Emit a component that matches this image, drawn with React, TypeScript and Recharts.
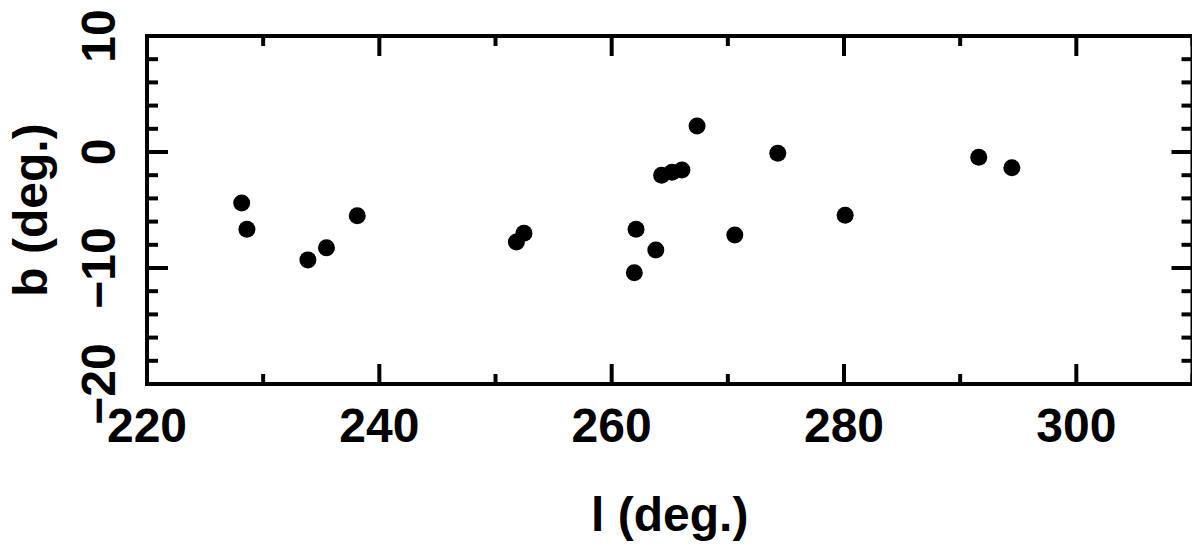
import { ScatterChart, Scatter, XAxis, YAxis, ReferenceArea } from 'recharts';

// galactic longitude / latitude of the sources (deg.)
const lonDeg = [228.15, 228.6, 233.85, 235.45, 238.1, 251.8, 252.45, 261.95, 262.1, 263.8, 264.3, 265.2, 266.05, 267.35, 270.6, 274.3, 280.1, 291.6, 294.45];
const latDeg = [-4.4, -6.65, -9.3, -8.25, -5.5, -7.75, -7.0, -10.4, -6.65, -8.45, -2.0, -1.75, -1.55, 2.25, -7.15, -0.1, -5.45, -0.45, -1.35];

const xTicks = [220, 230, 240, 250, 260, 270, 280, 290, 300, 310];
const yTicks = [-20, -18, -16, -14, -12, -10, -8, -6, -4, -2, 0, 2, 4, 6, 8, 10];

const points = lonDeg.map((l, i) => ({ l, b: latDeg[i] }));

const W = 1192;
const H = 540;
const LEFT = 139;
const RIGHT = 1184.5;
const TOP = 28;
const BOTTOM = 376;
const FONT = '"Liberation Sans", Arial, Helvetica, sans-serif';

const XTick = (props: any) => {
  const { x, payload } = props;
  const major = payload.value % 20 === 0;
  const len = major ? 20 : 10;
  return (
    <g>
      <line x1={x} x2={x} y1={BOTTOM} y2={BOTTOM - len} stroke="#000" strokeWidth={4} />
      <line x1={x} x2={x} y1={TOP} y2={TOP + len} stroke="#000" strokeWidth={4} />
      {major && (
        <text x={x} y={434} textAnchor="middle" fontFamily={FONT} fontWeight="bold" fontSize={48} fill="#000">
          {payload.value}
        </text>
      )}
    </g>
  );
};

const YTick = (props: any) => {
  const { y, payload } = props;
  const major = payload.value % 10 === 0;
  const len = major ? 21 : 11;
  const label = payload.value < 0 ? '\u2212' + Math.abs(payload.value) : String(payload.value);
  return (
    <g>
      <line x1={LEFT} x2={LEFT + len} y1={y} y2={y} stroke="#000" strokeWidth={4} />
      <line x1={RIGHT} x2={RIGHT - len} y1={y} y2={y} stroke="#000" strokeWidth={4} />
      {major && (
        <text
          x={107}
          y={y}
          transform={`rotate(-90, 107, ${y})`}
          textAnchor="middle"
          fontFamily={FONT}
          fontWeight="bold"
          fontSize={48}
          fill="#000"
        >
          {label}
        </text>
      )}
    </g>
  );
};

const Dot = (props: any) => <circle cx={props.cx} cy={props.cy} r={8.5} fill="#000" />;

export default function App() {
  return (
    <div style={{ width: W, height: H, background: '#fff' }}>
      <ScatterChart width={W} height={H} margin={{ top: TOP, right: W - RIGHT, bottom: 0, left: 0 }}>
        <XAxis
          type="number"
          dataKey="l"
          domain={[220, 310]}
          ticks={xTicks}
          interval={0}
          height={H - BOTTOM - TOP + TOP}
          axisLine={false}
          tickLine={false}
          tick={<XTick />}
        />
        <YAxis
          type="number"
          dataKey="b"
          domain={[-20, 10]}
          ticks={yTicks}
          interval={0}
          width={LEFT}
          axisLine={false}
          tickLine={false}
          tick={<YTick />}
        />
        <ReferenceArea x1={220} x2={310} y1={-20} y2={10} fill="none" stroke="#000" strokeWidth={4} />
        <Scatter data={points} shape={<Dot />} isAnimationActive={false} />
        <text
          x={39}
          y={(TOP + BOTTOM) / 2}
          transform={`rotate(-90, 39, ${(TOP + BOTTOM) / 2})`}
          textAnchor="middle"
          fontFamily={FONT}
          fontWeight="bold"
          fontSize={48}
          fill="#000"
        >
          b (deg.)
        </text>
        <text x={(LEFT + RIGHT) / 2} y={523} textAnchor="middle" fontFamily={FONT} fontWeight="bold" fontSize={48} fill="#000">
          l (deg.)
        </text>
      </ScatterChart>
    </div>
  );
}
